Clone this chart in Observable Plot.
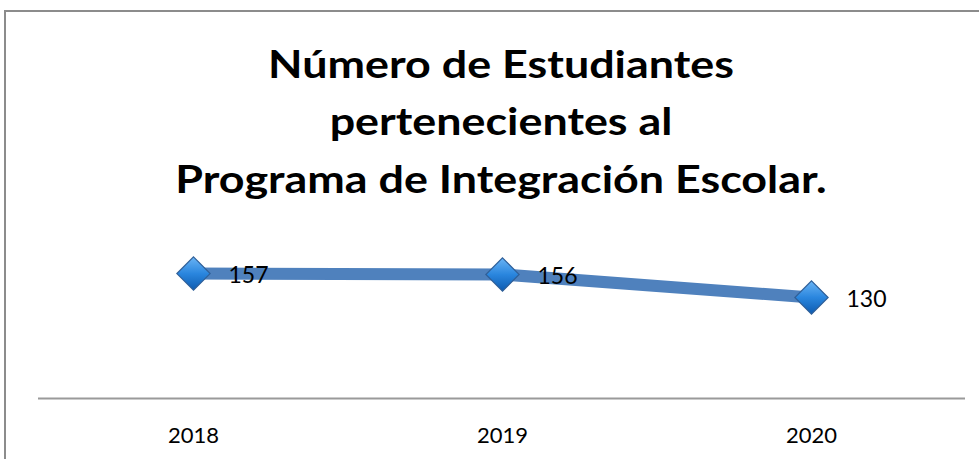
<!DOCTYPE html>
<html>
<head>
<meta charset="utf-8">
<script src="https://cdn.jsdelivr.net/npm/d3@7"></script>
<script src="https://cdn.jsdelivr.net/npm/@observablehq/plot@0.6"></script>
<style>
  html, body { margin: 0; padding: 0; background: #fff; }
  #wrap { position: relative; width: 979px; height: 459px; overflow: hidden; font-family: Lato, "Open Sans", sans-serif; }
  #border { position: absolute; left: 4px; top: 10px; width: 1100px; height: 600px; border: 2px solid #8c8c8c; box-sizing: border-box; }
  #title { position: absolute; left: 0; top: 34.5px; width: 1002px; text-align: center; font-weight: bold; font-size: 38px; line-height: 57.5px; color: #000; transform: scaleX(1.18); transform-origin: 501px 0; }
  #chart { position: absolute; left: 0; top: 0; }
</style>
</head>
<body>
<div id="wrap">
  <div id="border"></div>
  <div id="title">Número de Estudiantes<br>pertenecientes al<br>Programa de Integración Escolar.</div>
  <div id="chart"></div>
</div>
<script>
const years = ["2018", "2019", "2020"];
const students = [157, 156, 130];

const data = years.map((y, i) => ({year: y, value: students[i]}));

const plot = Plot.plot({
  width: 979,
  height: 459,
  marginLeft: 38,
  marginRight: 14,
  marginTop: 235,
  marginBottom: 61,
  style: {background: "transparent", fontFamily: "Lato, 'Open Sans', sans-serif"},
  x: {type: "point", domain: years, padding: 0.5, label: null},
  y: {domain: [16, 200], axis: null},
  marks: [
    Plot.ruleY([16], {stroke: "#9a9a9a", strokeWidth: 2, ariaLabel: "axis-rule"}),
    Plot.axisX({tickSize: 0, tickPadding: 29, fontSize: 22, fill: "#000", label: null, style: {letterSpacing: "1px"}}),
    Plot.line(data, {x: "year", y: "value", stroke: "#4f81bd", strokeWidth: 12}),
    Plot.dot(data, {x: "year", y: "value", symbol: "diamond2", r: 15, fill: "url(#dgrad)", stroke: "#2f5f98", strokeWidth: 1.2}),
    Plot.text(data, {x: "year", y: "value", text: d => String(d.value), dx: 35, dy: 2, textAnchor: "start", fontSize: 23, fill: "#000"})
  ]
});

const svg = d3.select(plot);
const defs = svg.insert("defs", ":first-child");
const g = defs.append("linearGradient").attr("id", "dgrad").attr("x1", "0").attr("y1", "0").attr("x2", "0").attr("y2", "1");
g.append("stop").attr("offset", "0%").attr("stop-color", "#6ab4f5");
g.append("stop").attr("offset", "50%").attr("stop-color", "#2a86de");
g.append("stop").attr("offset", "100%").attr("stop-color", "#0d5bb0");
// extend the axis rule to the right edge, as in the reference
svg.selectAll("g[aria-label='axis-rule'] line").attr("x2", 979);

document.getElementById("chart").appendChild(plot);
</script>
</body>
</html>
